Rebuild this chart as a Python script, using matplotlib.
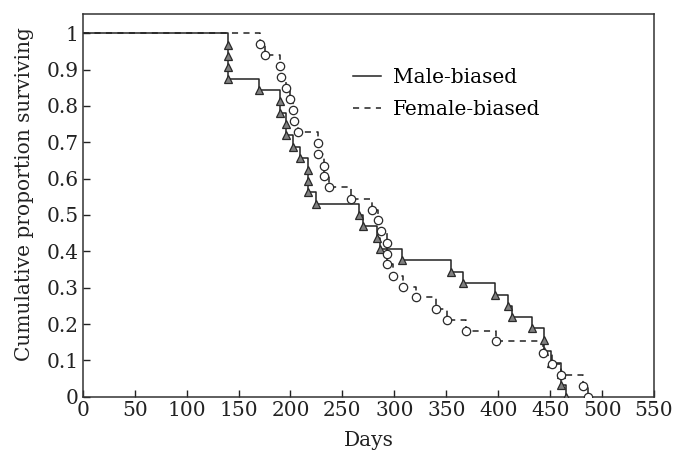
import matplotlib
matplotlib.use("Agg")
import matplotlib.pyplot as plt
from matplotlib.lines import Line2D

# Male-biased: event days and surviving proportion after each event
male_days = [140, 140, 140, 140, 170, 190, 190, 196, 196, 202, 209, 216.6, 216.6, 216.6,
             224.3, 266, 269.5, 283.6, 286.2, 307.7, 354.2, 366.4, 396.5, 409, 413.6,
             433, 444, 444, 450.5, 460.4, 460.4, 465.6]
male_surv = [0.969, 0.938, 0.906, 0.875, 0.844, 0.813, 0.781, 0.750, 0.719, 0.688, 0.656,
             0.625, 0.594, 0.563, 0.531, 0.500, 0.469, 0.438, 0.406, 0.375, 0.344, 0.313,
             0.281, 0.250, 0.219, 0.188, 0.156, 0.125, 0.094, 0.063, 0.031, 0.0]

# Female-biased
female_days = [170.7, 175.5, 190, 191, 195.7, 199.5, 202.7, 203.7, 206.8, 226.3, 226.3,
               232.5, 232.5, 237, 258.3, 278.9, 284, 287.2, 292.6, 292.6, 292.6, 299, 308,
               320.8, 340, 350.4, 369, 397.6, 442.8, 452, 460.4, 481.3, 486.7]
female_surv = [0.970, 0.939, 0.909, 0.879, 0.848, 0.818, 0.788, 0.758, 0.727, 0.697, 0.667,
               0.636, 0.606, 0.576, 0.545, 0.515, 0.485, 0.455, 0.424, 0.394, 0.364, 0.333,
               0.303, 0.273, 0.242, 0.212, 0.182, 0.152, 0.121, 0.091, 0.061, 0.030, 0.0]

xticks = [0, 50, 100, 150, 200, 250, 300, 350, 400, 450, 500, 550]
yticks = [0, 0.1, 0.2, 0.3, 0.4, 0.5, 0.6, 0.7, 0.8, 0.9, 1]
ytick_labels = ["0", "0.1", "0.2", "0.3", "0.4", "0.5", "0.6", "0.7", "0.8", "0.9", "1"]

plt.rcParams['font.family'] = ['DejaVu Serif']
FS = 14.5
fig = plt.figure(figsize=(6.75, 4.54), dpi=100)
ax = fig.add_axes([0.1225, 0.1262, 0.9689 - 0.1225, 0.9692 - 0.1262])

line_col = "#222222"
mx = [0] + male_days
my = [1.0] + male_surv
fx = [0] + female_days
fy = [1.0] + female_surv

ax.step(mx, my, where='post', color=line_col, lw=1.1, zorder=2)
ax.step(fx, fy, where='post', color=line_col, lw=1.1, dashes=(4, 3.5), zorder=2)
ax.plot(male_days, male_surv, ls='none', marker='^', ms=6, mfc='#808080', mec='#2a2a2a',
        mew=0.9, zorder=3)
ax.plot(female_days, female_surv, ls='none', marker='o', ms=6, mfc='white', mec='#2a2a2a',
        mew=0.9, zorder=3)

ax.set_xlim(0, 550)
ax.set_ylim(0, 1.053)
ax.set_xticks(xticks)
ax.set_xticklabels([str(t) for t in xticks])
ax.set_yticks(yticks)
ax.set_yticklabels(ytick_labels)
ax.tick_params(direction='in', length=5, width=1, labelsize=FS, colors='#222222', pad=3)
for s in ax.spines.values():
    s.set_linewidth(1.1)
    s.set_color('#333333')

ax.set_xlabel("Days", fontsize=FS, color='#222222', labelpad=8)
ax.set_ylabel("Cumulative proportion surviving", fontsize=FS, color='#222222', labelpad=9)
ax.yaxis.label.set_y(0.53)

handles = [Line2D([], [], color=line_col, lw=1.1),
           Line2D([], [], color=line_col, lw=1.1, dashes=(4, 3.5))]
ax.legend(handles, ["Male-biased", "Female-biased"], loc='upper left',
          bbox_to_anchor=(0.4415, 0.907), frameon=False, fontsize=FS,
          handlelength=1.4, handletextpad=0.6, labelspacing=0.65, borderpad=0.4)

fig.savefig("out.png", dpi=100)
